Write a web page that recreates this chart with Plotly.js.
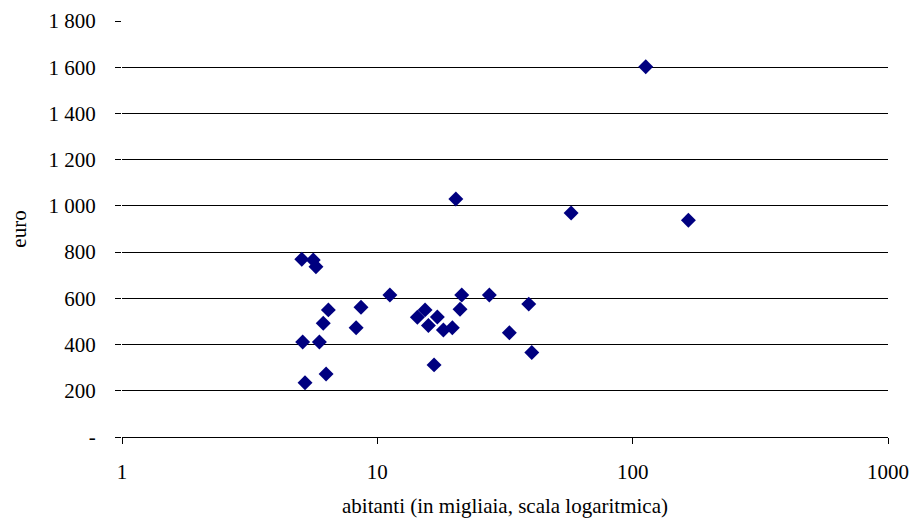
<!DOCTYPE html>
<html>
<head>
<meta charset="utf-8">
<script src="https://cdn.plot.ly/plotly-3.0.1.min.js"></script>
<style>html,body{margin:0;padding:0;background:#fff;}#chart{width:914px;height:521px;}</style>
</head>
<body>
<div id="chart"></div>
<script>
// abitanti (in migliaia)
const abitanti = [5.06, 5.61, 5.75, 6.43, 6.14, 5.10, 5.93, 5.21, 6.30, 8.63, 8.26, 11.2,
  14.35, 15.38, 15.85, 17.18, 18.14, 19.67, 21.41, 21.08, 16.68, 27.46, 32.89, 39.18, 40.26,
  20.3, 57.4, 112.5, 165.3];
// euro
const euro = [769, 766, 737, 550, 492, 411, 411, 235, 273, 561, 473, 614,
  518, 550, 482, 519, 463, 473, 614, 553, 312, 614, 451, 575, 366,
  1030, 969, 1602, 938];

const yTickVals = [0, 200, 400, 600, 800, 1000, 1200, 1400, 1600, 1800];
const yTickText = ["-", "200", "400", "600", "800", "1 000", "1 200", "1 400", "1 600", "1 800"];
const xTickVals = [1, 10, 100, 1000];
const xTickText = ["1", "10", "100", "1000"];

const font = {family: "'Liberation Serif', 'Times New Roman', 'DejaVu Serif', serif", size: 21, color: "#000"};

Plotly.newPlot("chart", [{
  type: "scatter",
  mode: "markers",
  x: abitanti,
  y: euro,
  marker: {symbol: "diamond", size: 11.5, color: "#000080", line: {width: 0}},
  hoverinfo: "none"
}], {
  width: 914, height: 521,
  margin: {l: 122, r: 26, t: 21, b: 84},
  paper_bgcolor: "#fff", plot_bgcolor: "#fff",
  font: font,
  showlegend: false,
  xaxis: {
    type: "log", range: [0, 3],
    tickvals: xTickVals, ticktext: xTickText,
    showgrid: false, zeroline: false,
    showline: true, linecolor: "#000", linewidth: 1,
    ticks: "outside", ticklen: 6, tickcolor: "#000",
    ticklabelstandoff: 10,
    tickfont: font,
    title: {text: "abitanti (in migliaia, scala logaritmica)", font: font, standoff: 15}
  },
  yaxis: {
    range: [0, 1800],
    tickvals: yTickVals, ticktext: yTickText,
    showgrid: true, gridcolor: "#000", gridwidth: 1,
    zeroline: false, showline: false,
    ticks: "outside", ticklen: 6, tickcolor: "#000",
    ticklabelstandoff: 15,
    tickfont: font,
    title: {text: "euro", font: font, standoff: 16}
  }
}, {staticPlot: true});
</script>
</body>
</html>
